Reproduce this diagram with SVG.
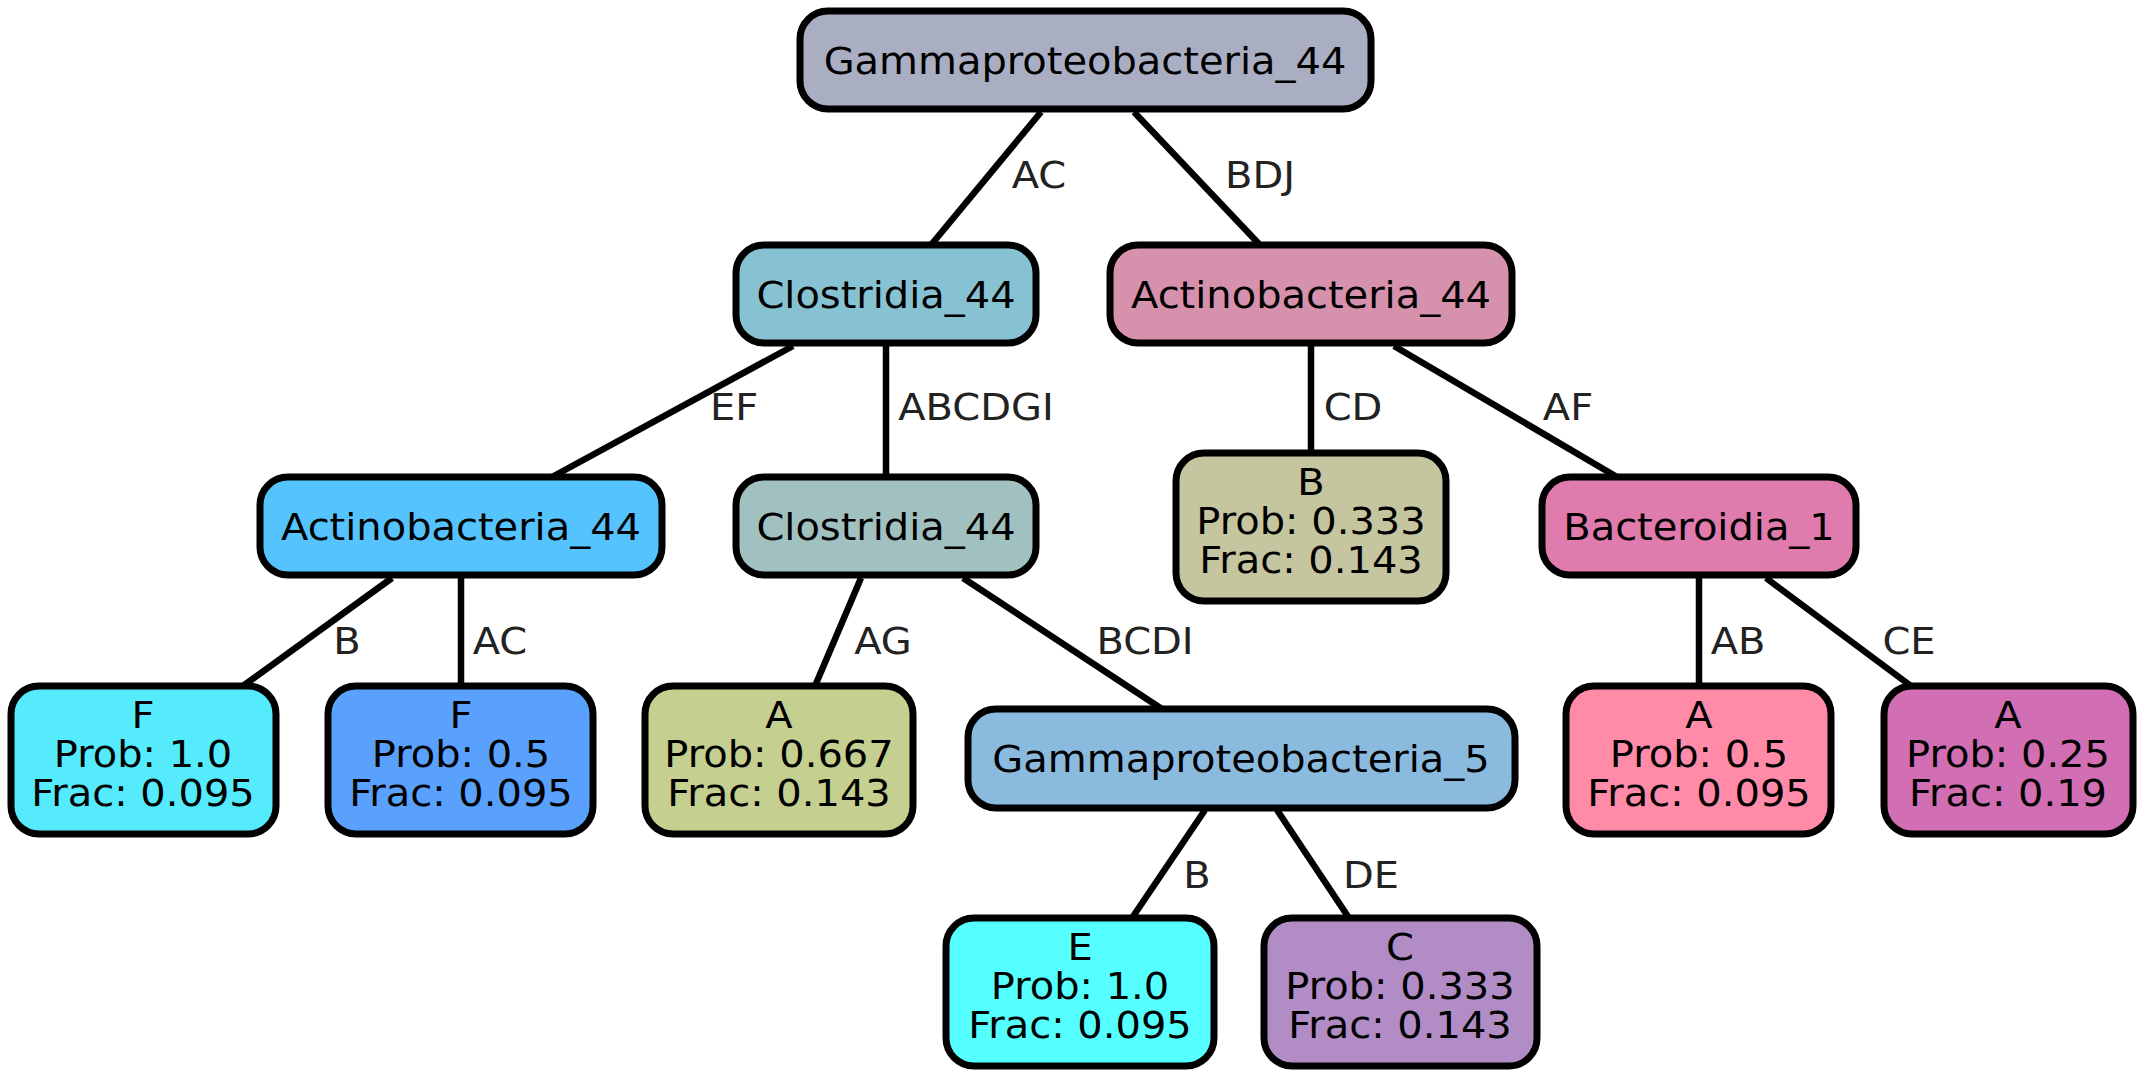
<svg xmlns="http://www.w3.org/2000/svg" width="2143" height="1079" viewBox="0 0 2143 1079">
<style>
.n{stroke:#000;stroke-width:7}
.t{font-family:"DejaVu Sans",sans-serif;font-size:37px;fill:#000;text-anchor:middle}
.l{font-family:"DejaVu Sans",sans-serif;font-size:37px;fill:#222;text-anchor:middle}
.e{stroke:#000;stroke-width:6.5;fill:none}
</style>
<rect width="2143" height="1079" fill="#fff"/>
<g id="edges">
<line class="e" x1="1041" y1="112" x2="931" y2="245"/>
<line class="e" x1="1134" y1="112" x2="1260" y2="245"/>
<line class="e" x1="793" y1="346" x2="552" y2="477"/>
<line class="e" x1="886" y1="346" x2="886" y2="477"/>
<line class="e" x1="1311" y1="346" x2="1311" y2="453"/>
<line class="e" x1="1394" y1="346" x2="1617" y2="477"/>
<line class="e" x1="392" y1="578" x2="243" y2="686"/>
<line class="e" x1="461" y1="578" x2="461" y2="686"/>
<line class="e" x1="861" y1="578" x2="815" y2="686"/>
<line class="e" x1="963" y1="578" x2="1162" y2="709"/>
<line class="e" x1="1699" y1="578" x2="1699" y2="686"/>
<line class="e" x1="1766" y1="578" x2="1911" y2="686"/>
<line class="e" x1="1205" y1="810" x2="1132" y2="918"/>
<line class="e" x1="1277" y1="810" x2="1349" y2="918"/>
<text class="l" transform="translate(1039 188) scale(1.08 1)">AC</text>
<text class="l" transform="translate(1260 188) scale(1.08 1)">BDJ</text>
<text class="l" transform="translate(734 420) scale(1.08 1)">EF</text>
<text class="l" transform="translate(976 420) scale(1.08 1)">ABCDGI</text>
<text class="l" transform="translate(1353 420) scale(1.08 1)">CD</text>
<text class="l" transform="translate(1568 420) scale(1.08 1)">AF</text>
<text class="l" transform="translate(347 654) scale(1.08 1)">B</text>
<text class="l" transform="translate(500 654) scale(1.08 1)">AC</text>
<text class="l" transform="translate(883 654) scale(1.08 1)">AG</text>
<text class="l" transform="translate(1145 654) scale(1.08 1)">BCDI</text>
<text class="l" transform="translate(1738 654) scale(1.08 1)">AB</text>
<text class="l" transform="translate(1909 654) scale(1.08 1)">CE</text>
<text class="l" transform="translate(1197 888) scale(1.08 1)">B</text>
<text class="l" transform="translate(1371 888) scale(1.08 1)">DE</text>
</g>
<g id="root"><rect class="n" x="800" y="11" width="571" height="98" rx="28" fill="#A9AEC3"/><text class="t" transform="translate(1085 74) scale(1.08 1)">Gammaproteobacteria_44</text></g>
<g id="clos1"><rect class="n" x="736" y="245" width="300" height="98" rx="28" fill="#87C2D3"/><text class="t" transform="translate(886 308) scale(1.08 1)">Clostridia_44</text></g>
<g id="actR"><rect class="n" x="1110" y="245" width="402" height="98" rx="28" fill="#D691AC"/><text class="t" transform="translate(1311 308) scale(1.08 1)">Actinobacteria_44</text></g>
<g id="actL"><rect class="n" x="260" y="477" width="402" height="98" rx="28" fill="#55C3FD"/><text class="t" transform="translate(461 540) scale(1.08 1)">Actinobacteria_44</text></g>
<g id="clos2"><rect class="n" x="736" y="477" width="300" height="98" rx="28" fill="#A0C1C0"/><text class="t" transform="translate(886 540) scale(1.08 1)">Clostridia_44</text></g>
<g id="nodeB"><rect class="n" x="1176" y="453" width="270" height="148" rx="28" fill="#C5C6A0"/><text class="t" transform="translate(1311 495) scale(1.08 1)">B</text><text class="t" transform="translate(1311 534) scale(1.08 1)">Prob: 0.333</text><text class="t" transform="translate(1311 573) scale(1.08 1)">Frac: 0.143</text></g>
<g id="bact"><rect class="n" x="1542" y="477" width="314" height="98" rx="28" fill="#E07BAE"/><text class="t" transform="translate(1699 540) scale(1.08 1)">Bacteroidia_1</text></g>
<g id="F1"><rect class="n" x="11" y="686" width="265" height="148" rx="28" fill="#55EBFD"/><text class="t" transform="translate(143 728) scale(1.08 1)">F</text><text class="t" transform="translate(143 767) scale(1.08 1)">Prob: 1.0</text><text class="t" transform="translate(143 806) scale(1.08 1)">Frac: 0.095</text></g>
<g id="F2"><rect class="n" x="328" y="686" width="265" height="148" rx="28" fill="#5AA1FD"/><text class="t" transform="translate(461 728) scale(1.08 1)">F</text><text class="t" transform="translate(461 767) scale(1.08 1)">Prob: 0.5</text><text class="t" transform="translate(461 806) scale(1.08 1)">Frac: 0.095</text></g>
<g id="A1"><rect class="n" x="645" y="686" width="268" height="148" rx="28" fill="#C5CF8F"/><text class="t" transform="translate(779 728) scale(1.08 1)">A</text><text class="t" transform="translate(779 767) scale(1.08 1)">Prob: 0.667</text><text class="t" transform="translate(779 806) scale(1.08 1)">Frac: 0.143</text></g>
<g id="gam5"><rect class="n" x="968" y="709" width="547" height="99" rx="28" fill="#8ABBDE"/><text class="t" transform="translate(1241 772) scale(1.08 1)">Gammaproteobacteria_5</text></g>
<g id="A2"><rect class="n" x="1566" y="686" width="265" height="148" rx="28" fill="#FF8BA9"/><text class="t" transform="translate(1699 728) scale(1.08 1)">A</text><text class="t" transform="translate(1699 767) scale(1.08 1)">Prob: 0.5</text><text class="t" transform="translate(1699 806) scale(1.08 1)">Frac: 0.095</text></g>
<g id="A3"><rect class="n" x="1884" y="686" width="249" height="148" rx="28" fill="#D26FB4"/><text class="t" transform="translate(2008 728) scale(1.08 1)">A</text><text class="t" transform="translate(2008 767) scale(1.08 1)">Prob: 0.25</text><text class="t" transform="translate(2008 806) scale(1.08 1)">Frac: 0.19</text></g>
<g id="E"><rect class="n" x="946" y="918" width="268" height="148" rx="28" fill="#55FFFF"/><text class="t" transform="translate(1080 960) scale(1.08 1)">E</text><text class="t" transform="translate(1080 999) scale(1.08 1)">Prob: 1.0</text><text class="t" transform="translate(1080 1038) scale(1.08 1)">Frac: 0.095</text></g>
<g id="C"><rect class="n" x="1264" y="918" width="273" height="148" rx="28" fill="#B18CC5"/><text class="t" transform="translate(1400 960) scale(1.08 1)">C</text><text class="t" transform="translate(1400 999) scale(1.08 1)">Prob: 0.333</text><text class="t" transform="translate(1400 1038) scale(1.08 1)">Frac: 0.143</text></g>
</svg>
